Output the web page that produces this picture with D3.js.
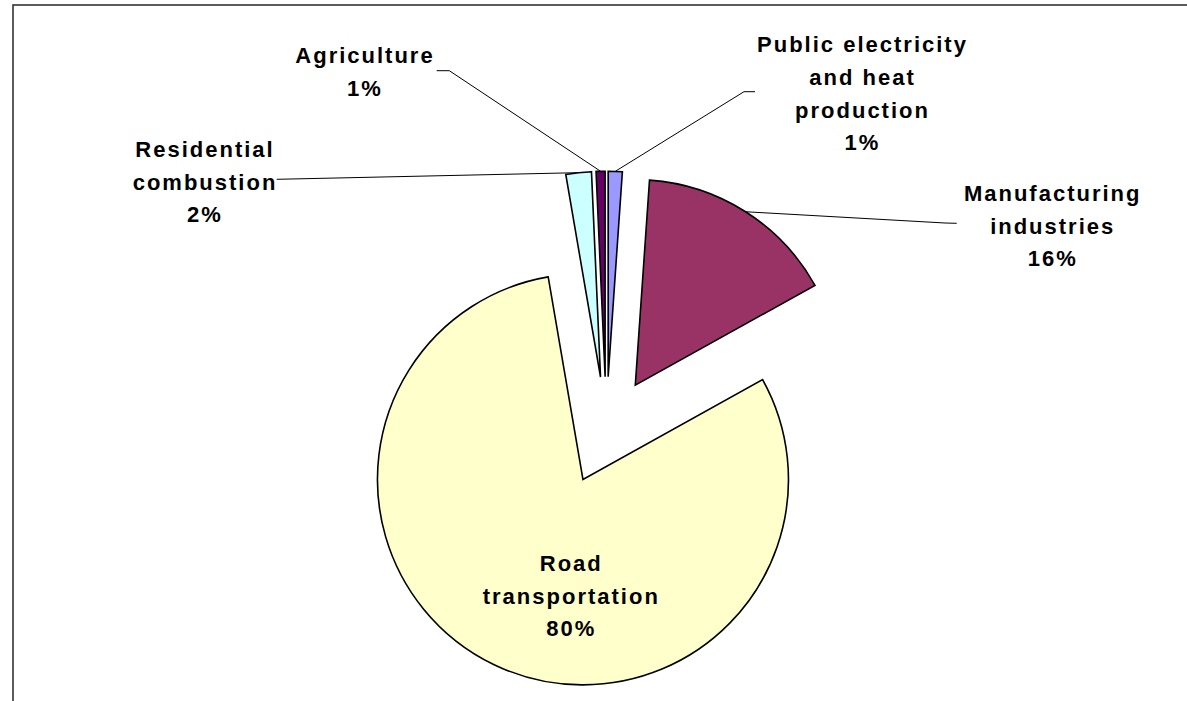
<!DOCTYPE html>
<html>
<head>
<meta charset="utf-8">
<script src="https://cdn.jsdelivr.net/npm/d3@7/dist/d3.min.js"></script>
<style>
  html, body { margin: 0; padding: 0; background: #ffffff; }
  svg { display: block; }
  text { font-family: "Liberation Sans", Arial, sans-serif; font-weight: bold; font-size: 22px; letter-spacing: 2px; fill: #000; }
</style>
</head>
<body>
<svg id="chart" width="1187" height="701"></svg>
<script>
// ---- data ----
const categories = ["Public electricity and heat production", "Manufacturing industries", "Road transportation", "Residential combustion", "Agriculture"];
const labelLines = [["Public electricity", "and heat", "production"], ["Manufacturing", "industries"], ["Road", "transportation"], ["Residential", "combustion"], ["Agriculture"]];
const shares = [1.1, 15.8, 80.2, 2.0, 0.7];
const colors = ["#9999FF", "#993366", "#FFFFCC", "#CCFFFF", "#660066"];

// ---- layout ----
const W = 1187, H = 701;
const cx = 606.3, cy = 430.7, R = 205.5, explode = 54;
const lineH = 32.8;
// label placement: center x, first baseline y, leader start, leader elbow (null = no leader)
const labelLayout = [
  { x: 861.5, y: 52, lead: [755, 91.7], elbow: [744, 91.7] },
  { x: 1051.7, y: 200.7, lead: [956.7, 223.3], elbow: [945, 223] },
  { x: 570.3, y: 570.7, lead: null, elbow: null },
  { x: 204, y: 156.7, lead: [276.7, 179.3], elbow: [282, 179.2] },
  { x: 364, y: 62.7, lead: [436.7, 70.7], elbow: [449.3, 70.7] }
];

const svg = d3.select("#chart");

// chart frame (only top and left visible in the reference)
svg.append("rect").attr("x", 13).attr("y", 5).attr("width", W + 20).attr("height", H + 20)
  .attr("fill", "#fff").attr("stroke", "#333").attr("stroke-width", 1.6);

const total = d3.sum(shares);
const pie = d3.pie().sort(null).value(d => d)(shares);
const arc = d3.arc().innerRadius(0).outerRadius(R);

function offset(d) {
  const m = (d.startAngle + d.endAngle) / 2;
  return [explode * Math.sin(m), -explode * Math.cos(m)];
}
function outerPoint(d) {
  const m = (d.startAngle + d.endAngle) / 2;
  const o = offset(d);
  return [cx + o[0] + R * Math.sin(m), cy + o[1] - R * Math.cos(m)];
}

// leader lines (drawn beneath slices)
const leaders = svg.append("g");
pie.forEach((d, i) => {
  const L = labelLayout[i];
  if (!L.lead) return;
  const p = outerPoint(d);
  leaders.append("polyline")
    .attr("points", [L.lead, L.elbow, p].map(q => q.join(",")).join(" "))
    .attr("fill", "none").attr("stroke", "#000").attr("stroke-width", 1);
});

// slices
svg.append("g").selectAll("path").data(pie).join("path")
  .attr("transform", d => { const o = offset(d); return `translate(${cx + o[0]},${cy + o[1]})`; })
  .attr("d", arc)
  .attr("fill", (d, i) => colors[i])
  .attr("stroke", "#000").attr("stroke-width", 1.6).attr("stroke-linejoin", "miter");

// labels
const labels = svg.append("g");
pie.forEach((d, i) => {
  const L = labelLayout[i];
  const lines = labelLines[i].concat([Math.round(d.value / total * 100) + "%"]);
  const t = labels.append("text").attr("text-anchor", "middle");
  lines.forEach((s, k) => {
    t.append("tspan").attr("x", L.x + 1).attr("y", L.y + k * lineH).text(s);
  });
});
</script>
</body>
</html>
